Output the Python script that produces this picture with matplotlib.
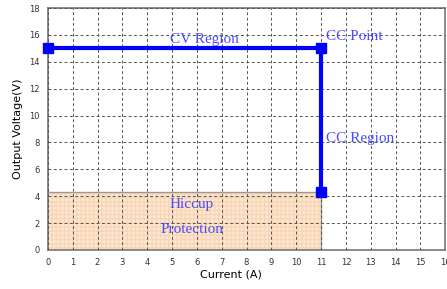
import numpy as np
import matplotlib.pyplot as plt

# operating curve
current = [0, 11, 11]
voltage = [15, 15, 4.3]
hiccup_i = 11
hiccup_v = 4.3

xticks = list(range(0, 17))
yticks = list(range(0, 19, 2))

fig = plt.figure(figsize=(4.47, 2.89), dpi=100)
ax = fig.add_axes([0.107, 0.135, 0.889, 0.837])

ax.fill_between([0, hiccup_i], 0, hiccup_v, facecolor='#fde8d4', edgecolor='#f8d6b4',
                hatch='++++', linewidth=0, zorder=1)
ax.plot([0, hiccup_i, hiccup_i], [hiccup_v, hiccup_v, 0], color='#999999', lw=1, zorder=2)

ax.plot(current, voltage, color='#0000ff', lw=3, marker='s', ms=7, zorder=5, clip_on=False)

ax.set_xlim(0, 16)
ax.set_ylim(0, 18)
ax.set_xticks(xticks)
ax.set_yticks(yticks)
ax.tick_params(labelsize=6, length=0, pad=6, colors='#333333')
ax.grid(True, color='#555555', ls=(0, (3, 2.5)), lw=0.7)
ax.set_axisbelow(False)
for s in ax.spines.values():
    s.set_color('#777777')
    s.set_linewidth(1.2)

ax.set_xlabel('Current (A)', fontsize=8, labelpad=2)
ax.xaxis.set_label_coords(0.46, -0.08)
ax.set_ylabel('Output Voltage(V)', fontsize=8, labelpad=4)

tc = '#4a4aff'
fam = 'Liberation Serif'
ax.text(6.3, 15.2, 'CV Region', family=fam, fontsize=11, color=tc, ha='center', va='bottom')
ax.text(11.2, 15.4, 'CC Point', family=fam, fontsize=11, color=tc, ha='left', va='bottom')
ax.text(11.2, 8.3, 'CC Region', family=fam, fontsize=11, color=tc, ha='left', va='center')
ax.text(5.8, 3.4, 'Hiccup', family=fam, fontsize=11, color=tc, ha='center', va='center')
ax.text(5.8, 1.5, 'Protection', family=fam, fontsize=11, color=tc, ha='center', va='center')

fig.savefig('out.png', dpi=100)
